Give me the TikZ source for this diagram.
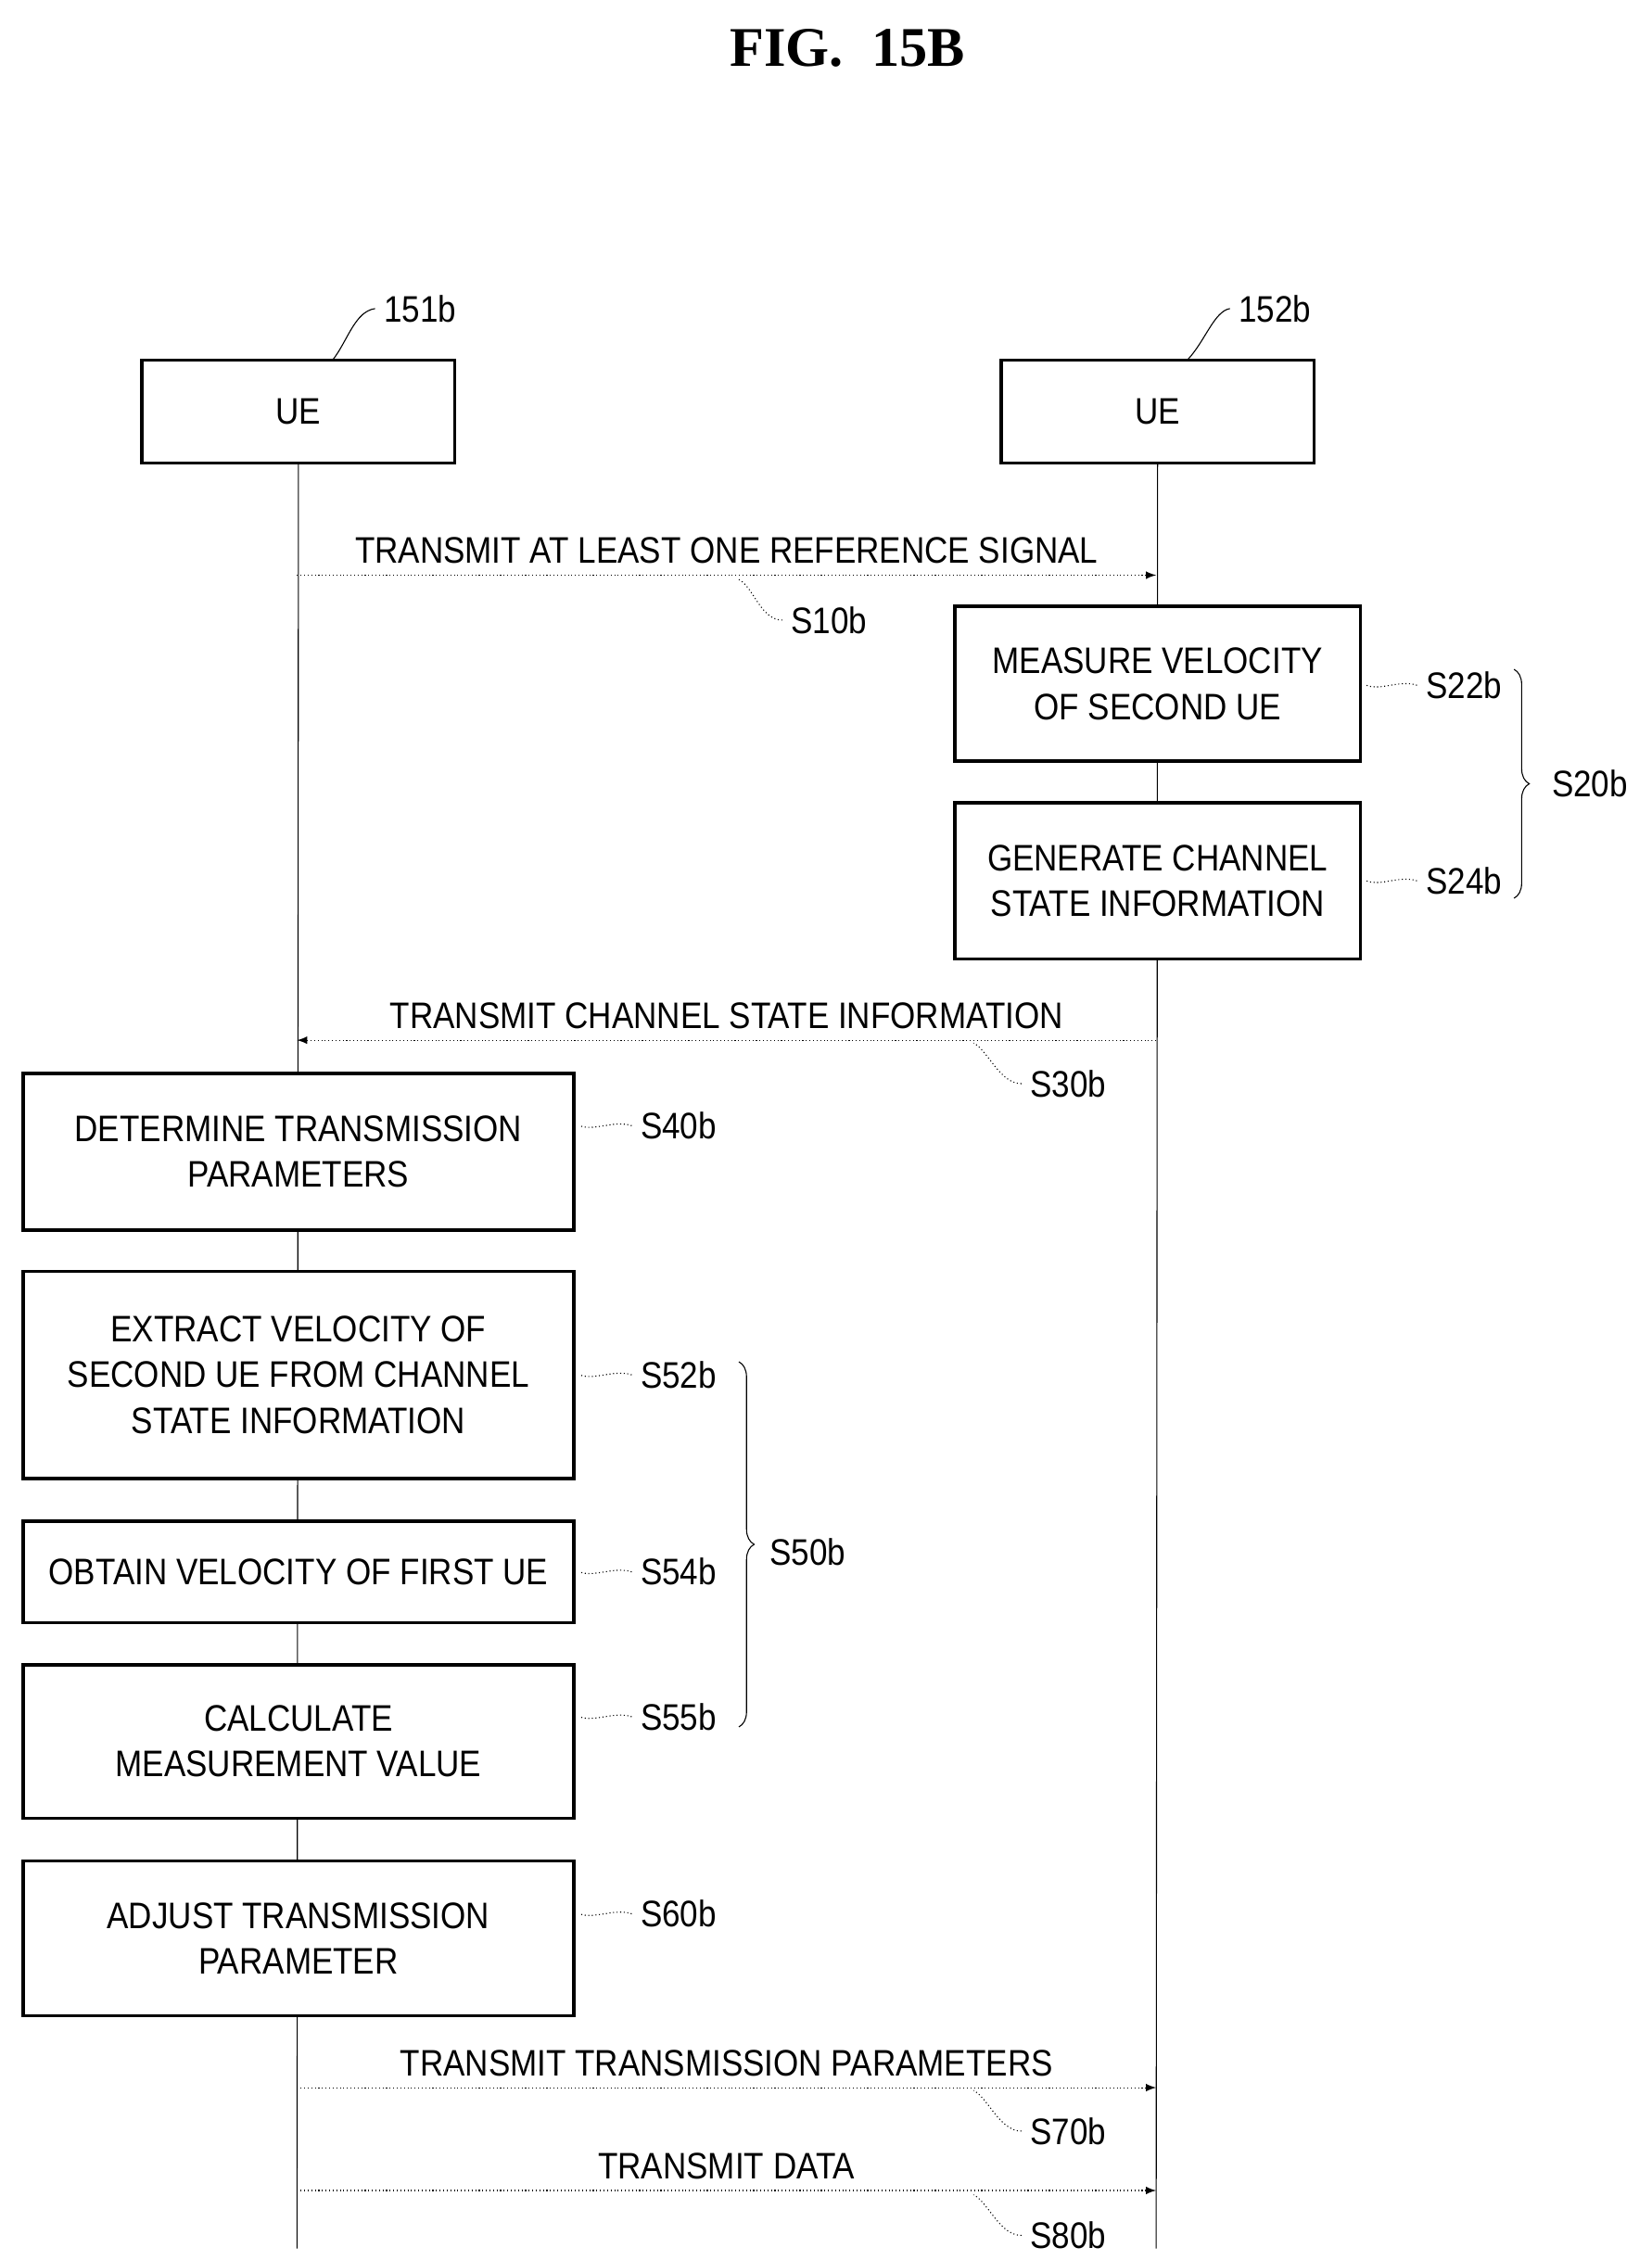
\documentclass[tikz,border=0pt]{standalone}
\usepackage{fontspec}
\setmainfont{Liberation Serif}
\newfontfamily\labfont[FakeStretch=0.88]{Liberation Sans}
\usetikzlibrary{positioning, decorations.pathreplacing, backgrounds}
\begin{document}
\begin{tikzpicture}[x=0.02cm, y=-0.02cm, >=latex,
  box/.style={draw, line width=1.3pt, fill=white, align=center, font=\labfont\fontsize{14.5}{18}\selectfont,
    inner sep=2pt},
  msg/.style={font=\labfont\fontsize{14.5}{16}\selectfont},
  tag/.style={font=\labfont\fontsize{14.5}{16}\selectfont, anchor=west},
  life/.style={thin},
  arr/.style={->, thin, densely dotted}]

\useasboundingbox (0,0) rectangle (1140,1560);

% Title
\node[font=\bfseries\fontsize{22}{26}\selectfont] (title) at (585,33) {FIG.\ \ 15B};

% Participants
\node[box, minimum width=4.32cm, minimum height=1.42cm] (ue1) at (206,284) {UE};
\node[box, minimum width=4.32cm, minimum height=1.42cm] (ue2) at (799,284) {UE};
\node[msg] (n1) at (290,213) {151b};
\node[msg] (n2) at (880,213) {152b};
\draw (n1.west) .. controls (245,215) and (240,235) .. (230,248);
\draw (n2.west) .. controls (838,215) and (832,235) .. (820,248);

% Step boxes on second UE
\node[box, minimum width=5.6cm, minimum height=2.14cm] (s22) at (799,472) {MEASURE VELOCITY\\OF SECOND UE};
\node[box, minimum width=5.6cm, minimum height=2.16cm] (s24) at (799,608) {GENERATE CHANNEL\\STATE INFORMATION};

% Step boxes on first UE
\node[box, minimum width=7.6cm, minimum height=2.16cm] (s40) at (206,795) {DETERMINE TRANSMISSION\\PARAMETERS};
\node[box, minimum width=7.6cm, minimum height=2.86cm] (s52) at (206,949) {EXTRACT VELOCITY OF\\SECOND UE FROM CHANNEL\\STATE INFORMATION};
\node[box, minimum width=7.6cm, minimum height=1.4cm] (s54) at (206,1085) {OBTAIN VELOCITY OF FIRST UE};
\node[box, minimum width=7.6cm, minimum height=2.12cm] (s55) at (206,1202) {CALCULATE\\MEASUREMENT VALUE};
\node[box, minimum width=7.6cm, minimum height=2.14cm] (s60) at (206,1338) {ADJUST TRANSMISSION\\PARAMETER};

% Lifelines
\coordinate (end1) at (205,1552);
\coordinate (end2) at (798,1552);
\begin{scope}[on background layer]
\draw[life] (ue1.south) -- (end1);
\draw[life] (ue2.south) -- (end2);
\end{scope}

% Messages
\coordinate (a1) at (205,397);  \coordinate (b1) at (798,397);
\coordinate (a2) at (798,718);  \coordinate (b2) at (205,718);
\coordinate (a7) at (205,1441); \coordinate (b7) at (798,1441);
\coordinate (a8) at (205,1512); \coordinate (b8) at (798,1512);
\draw[arr] (a1) -- (b1) node[msg, midway, above=1pt] (m1) {TRANSMIT AT LEAST ONE REFERENCE SIGNAL};
\draw[arr] (a2) -- (b2) node[msg, midway, above=1pt] (m2) {TRANSMIT CHANNEL STATE INFORMATION};
\draw[arr] (a7) -- (b7) node[msg, midway, above=1pt] (m7) {TRANSMIT TRANSMISSION PARAMETERS};
\draw[arr] (a8) -- (b8) node[msg, midway, above=1pt] (m8) {TRANSMIT DATA};

% Step labels
\foreach \nm/\lab/\x/\y/\bx in {s22/S22b/978/473/940, s24/S24b/978/608/940,
  s40/S40b/436/777/397, s52/S52b/436/949/397, s54/S54b/436/1085/397,
  s55/S55b/436/1185/397, s60/S60b/436/1321/397} {
  \node[tag] (t\nm) at (\x,\y) {\lab};
  \draw[densely dotted] (t\nm.west) .. controls ++(-12,-4) and ++(10,4) .. (\bx+3,\y);
}
\foreach \nm/\lab/\x/\y/\sx in {10/S10b/540/428/510, 30/S30b/705/748/672,
  70/S70b/705/1471/672, 80/S80b/705/1543/672} {
  \node[tag] (t\nm) at (\x,\y) {\lab};
  \draw[densely dotted] (t\nm.west) .. controls ++(-15,0) and ++(10,5) .. (\sx,\y-28);
}

% Braces
\draw[decorate, decoration={brace, amplitude=6pt}] (1045,462) -- (1045,620);
\node[tag] (t20) at (1065,541) {S20b};
\draw[decorate, decoration={brace, amplitude=6pt}] (510,940) -- (510,1192);
\node[tag] (t50) at (525,1071) {S50b};

\end{tikzpicture}
\end{document}
